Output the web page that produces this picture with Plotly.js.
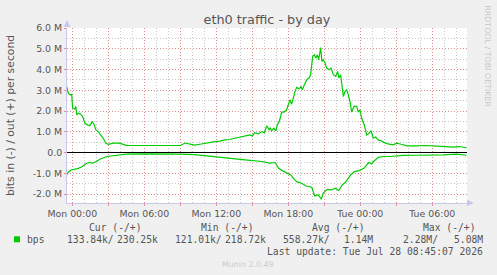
<!DOCTYPE html>
<html>
<head>
<meta charset="utf-8">
<script src="https://cdn.plot.ly/plotly-3.0.1.min.js"></script>
<style>
html,body{margin:0;padding:0;background:#f0f0f0;}
#chart{width:497px;height:275px;}
</style>
</head>
<body>
<div id="chart"></div>
<script>
// Hours since Mon 00:00, values in Mbit/s
var outHours = [-0.47,-0.33,-0.19,-0.05,0.03,0.22,0.3,0.36,0.5,0.7,0.86,1.06,1.25,1.47,1.67,1.83,1.97,2.17,2.36,2.58,2.8,3.0,3.42,3.92,4.5,5.5,7.0,7.8,8.6,9.0,9.4,9.8,10.2,10.64,11.06,11.5,11.9,12.3,12.7,13.1,13.56,14.0,14.4,14.8,15.0,15.2,15.5,15.8,16.0,16.2,16.4,16.5,16.61,16.8,16.97,17.08,17.25,17.45,17.64,17.86,18.0,18.14,18.28,18.42,18.56,18.7,18.9,19.06,19.17,19.33,19.53,19.72,19.86,20.03,20.17,20.3,20.42,20.53,20.7,20.8,20.92,21.06,21.2,21.4,21.56,21.75,21.95,22.11,22.22,22.36,22.5,22.59,22.72,22.86,23.0,23.14,23.28,23.47,23.7,23.83,23.97,24.11,24.33,24.53,24.72,24.89,25.08,25.28,25.5,25.78,26.0,26.3,26.75,27.03,27.4,27.9,28.7,29.5,30.4,31.06,31.75,32.25,32.85];
var outBits  = [3.18,2.86,2.78,2.81,2.14,2.1,2.22,1.82,1.9,1.85,1.74,1.41,1.33,1.3,1.5,1.33,1.09,1.01,0.85,0.69,0.45,0.4,0.45,0.45,0.35,0.34,0.34,0.32,0.32,0.34,0.46,0.4,0.36,0.4,0.45,0.48,0.53,0.55,0.61,0.63,0.69,0.72,0.77,0.85,0.8,0.96,0.9,1.01,0.95,1.29,1.1,1.2,1.05,1.17,1.05,1.33,1.5,1.95,1.95,2.06,2.3,2.54,2.33,2.7,2.94,3.14,3.07,3.18,3.02,3.26,3.5,3.59,3.75,4.63,4.71,4.55,4.71,4.47,5.06,4.39,4.47,4.31,4.07,3.99,4.07,3.75,3.67,3.91,3.59,3.75,3.18,2.7,2.94,3.02,2.78,2.46,1.95,2.22,2.22,1.95,2.06,1.66,1.33,0.85,0.93,1.05,0.69,0.75,0.61,0.56,0.48,0.42,0.37,0.45,0.4,0.32,0.32,0.34,0.31,0.29,0.26,0.29,0.23];
var inHours = [-0.47,-0.35,-0.1,0.2,0.5,0.8,1.1,1.4,1.7,2.0,2.3,2.9,3.7,4.5,6.0,7.3,9.1,10.2,10.64,11.6,13.0,14.4,15.8,16.5,16.9,17.2,17.5,17.86,18.2,18.5,18.7,19.1,19.5,19.95,20.1,20.2,20.5,20.75,20.9,21.25,21.6,21.9,22.2,22.5,22.8,23.2,23.5,23.9,24.3,24.7,24.95,25.1,25.5,25.9,26.5,27.6,28.7,29.8,30.9,32.0,32.85];
var inBits  = [-1.08,-0.96,-0.84,-0.8,-0.76,-0.68,-0.55,-0.48,-0.51,-0.43,-0.32,-0.19,-0.13,-0.08,-0.06,-0.06,-0.08,-0.1,-0.13,-0.19,-0.27,-0.35,-0.43,-0.51,-0.48,-0.76,-0.87,-1.0,-1.08,-1.29,-1.4,-1.48,-1.61,-1.67,-1.96,-2.09,-2.04,-2.25,-1.96,-1.77,-1.8,-1.72,-1.83,-1.56,-1.4,-1.08,-0.92,-0.87,-0.76,-0.48,-0.55,-0.43,-0.23,-0.19,-0.19,-0.14,-0.13,-0.13,-0.11,-0.08,-0.13];

var xTickVals = [0,3,6,9,12,15,18,21,24,27,30];
var xTickText = ["Mon 00:00","","Mon 06:00","","Mon 12:00","","Mon 18:00","","Tue 00:00","","Tue 06:00"];
var yTickVals = [-2,-1,0,1,2,3,4,5,6];
var yTickText = ["-2.0 M","-1.0 M","0.0","1.0 M","2.0 M","3.0 M","4.0 M","5.0 M","6.0 M"];

var legendHeaders = ["Cur (-/+)","Min (-/+)","Avg (-/+)","Max (-/+)"];
var legendIn  = ["133.84k/","121.01k/","558.27k/","2.28M/"];
var legendOut = ["230.25k","218.72k","1.14M","5.08M"];
var seriesName = "bps";
var lastUpdate = "Last update: Tue Jul 28 08:45:07 2026";

// plot-area pixel geometry (styling)
var L = 67, R = 467, T = 28, B = 203;
function px(x){ return (x - L) / (R - L); }
function py(y){ return (B - y) / (B - T); }

var mono = {family:"DejaVu Sans Mono", size:9.7, color:"#555555"};
var green = "#00cc00";

var traces = [
  {x: outHours, y: outBits, type:"scatter", mode:"lines", line:{color:green, width:1.2}, hoverinfo:"skip"},
  {x: inHours, y: inBits, type:"scatter", mode:"lines", line:{color:green, width:1.2}, hoverinfo:"skip"}
];

var anns = [];
function ann(text, x, y, xanchor, font){
  anns.push({text:text, xref:"paper", yref:"paper", x:px(x), y:py(y), xanchor:xanchor, yanchor:"middle",
    showarrow:false, borderpad:0, borderwidth:0, font:font});
}
var headerX = [89.3, 200.7, 312.3, 423.3];
var inX = [66.7, 175, 283.3, 403.3];
var outRight = [157.7, 266, 373.3, 482.7];
for (var i=0;i<4;i++){
  ann(legendHeaders[i], headerX[i], 227, "left", mono);
  ann(legendIn[i], inX[i], 239.3, "left", mono);
  ann(legendOut[i], outRight[i], 239.3, "right", mono);
}
ann(seriesName, 26.7, 239.3, "left", mono);
ann(lastUpdate, 482.7, 251.8, "right", mono);
ann("Munin 2.0.49", 222, 264.3, "left", {family:"DejaVu Sans", size:7.9, color:"#cccccc"});
anns.push({text:"bits in (-) / out (+) per second", xref:"paper", yref:"paper", x:px(10.5), y:py(115.5),
  xanchor:"center", yanchor:"middle", textangle:-90, showarrow:false, borderpad:0, borderwidth:0,
  font:{family:"DejaVu Sans", size:10.8, color:"#555555"}});
anns.push({text:"RRDTOOL / TOBI OETIKER", xref:"paper", yref:"paper", x:px(487.7), y:py(56),
  xanchor:"center", yanchor:"middle", textangle:90, showarrow:false, borderpad:0, borderwidth:0,
  font:{family:"DejaVu Sans", size:7.9, color:"#c8c8c8"}});

var axisCol = "#c8c8ee";
var shapes = [
  {type:"rect", xref:"paper", yref:"paper", x0:px(14), x1:px(20), y0:py(236.3), y1:py(242.3), fillcolor:green, line:{width:0}},
  {type:"path", xref:"paper", yref:"paper", path:"M "+px(63.7)+" "+py(27)+" L "+px(67)+" "+py(20)+" L "+px(70.3)+" "+py(27)+" Z", fillcolor:axisCol, line:{width:0}},
  {type:"path", xref:"paper", yref:"paper", path:"M "+px(467)+" "+py(199.7)+" L "+px(474)+" "+py(203)+" L "+px(467)+" "+py(206.3)+" Z", fillcolor:axisCol, line:{width:0}}
];

var layout = {
  width:497, height:275,
  margin:{l:L, r:497-R, t:T, b:275-B, pad:0},
  paper_bgcolor:"#f0f0f0", plot_bgcolor:"#ffffff",
  showlegend:false,
  title:{text:"eth0 traffic - by day", x:px(267), xref:"paper", xanchor:"center", y:1-20/275, yanchor:"middle",
    font:{family:"DejaVu Sans", size:12.8, color:"#555555"}},
  xaxis:{range:[-0.44,32.89], tickmode:"array", tickvals:xTickVals, ticktext:xTickText,
    showgrid:true, gridcolor:"rgba(235,110,110,0.65)", griddash:"1px,2px", gridwidth:1,
    minor:{tickmode:"linear", tick0:0, dtick:1, showgrid:true, gridcolor:"#c8c8c8", griddash:"1px,2px", gridwidth:1},
    zeroline:false, showline:true, linecolor:axisCol, linewidth:1,
    ticks:"outside", ticklen:2, tickcolor:"rgba(235,110,110,0.8)",
    tickfont:{family:"DejaVu Sans", size:9.4, color:"#555555"}, fixedrange:true},
  yaxis:{range:[-2.43,6.0], tickmode:"array", tickvals:yTickVals, ticktext:yTickText,
    showgrid:true, gridcolor:"rgba(235,110,110,0.65)", griddash:"1px,2px", gridwidth:1,
    minor:{tickmode:"linear", tick0:0, dtick:0.5, showgrid:true, gridcolor:"#c8c8c8", griddash:"1px,2px", gridwidth:1},
    zeroline:true, zerolinecolor:"#000000", zerolinewidth:1,
    showline:true, linecolor:axisCol, linewidth:1,
    ticks:"outside", ticklen:2, tickcolor:"rgba(235,110,110,0.8)",
    tickfont:{family:"DejaVu Sans", size:9.4, color:"#555555"}, fixedrange:true},
  annotations:anns,
  shapes:shapes
};

Plotly.newPlot("chart", traces, layout, {displayModeBar:false, staticPlot:true});
</script>
</body>
</html>
